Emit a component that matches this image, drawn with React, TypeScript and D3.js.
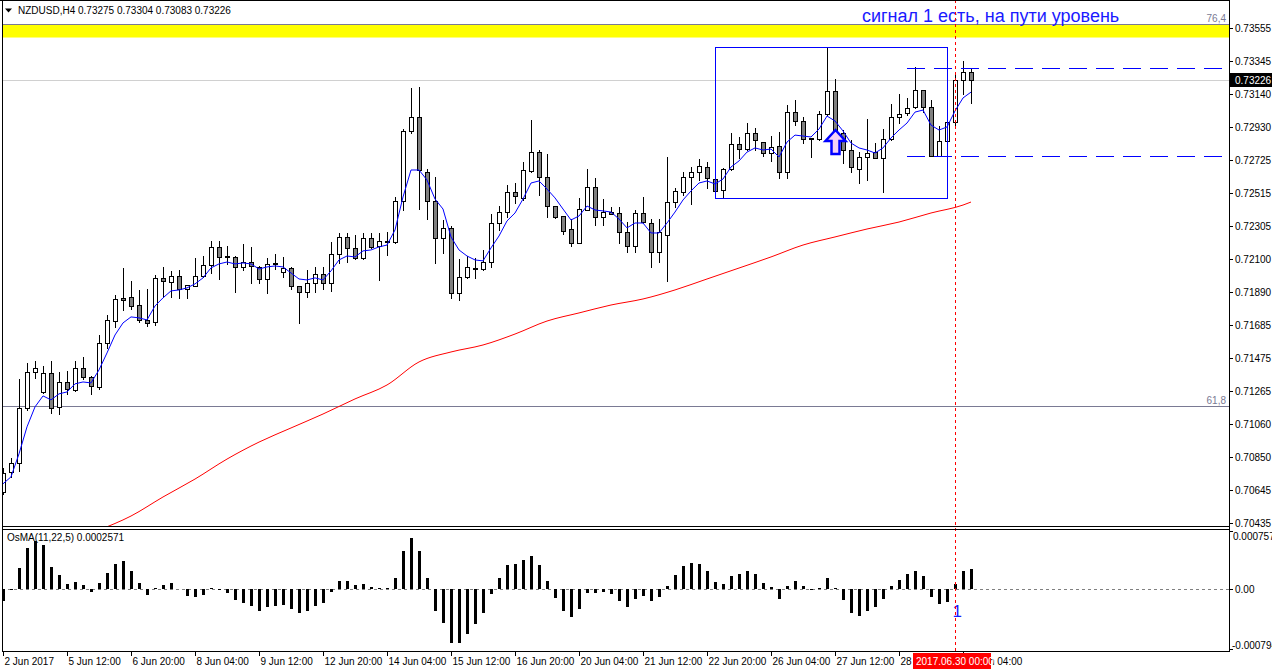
import * as d3 from 'd3';

// NZDUSD H4, 2 Jun 04:00 .. 30 Jun 08:00 2017
const symbolTitle = 'NZDUSD,H4  0.73275 0.73304 0.73083 0.73226';
const oscTitle = 'OsMA(11,22,5) 0.0002571';
const note = 'сигнал 1 есть, на пути уровень';
const signalMark = '1';

const priceTicks = [0.73555, 0.73345, 0.7314, 0.7293, 0.72725, 0.72515, 0.72305, 0.721, 0.7189, 0.71685,
  0.71475, 0.71265, 0.7106, 0.7085, 0.70645, 0.70435];
const dateLabels = ['2 Jun 2017', '5 Jun 12:00', '6 Jun 20:00', '8 Jun 04:00', '9 Jun 12:00', '12 Jun 20:00',
  '14 Jun 04:00', '15 Jun 12:00', '16 Jun 20:00', '20 Jun 04:00', '21 Jun 12:00', '22 Jun 20:00',
  '26 Jun 04:00', '27 Jun 12:00', '28 Jun 20:00', '30 Jun 04:00'];
const barsPerLabel = 8;
const cursorBar = 119;
const cursorLabel = '2017.06.30 00:00';
const lastPrice = 0.73226;

// open, high, low, close
const candles: number[][] = [
  [0.70631, 0.70783, 0.70619, 0.70751], [0.70757, 0.70846, 0.70726, 0.70814], [0.70814, 0.71343, 0.70764, 0.71161],
  [0.71161, 0.71444, 0.71148, 0.71387], [0.71387, 0.71457, 0.7135, 0.71413], [0.71261, 0.71425, 0.71255, 0.71381],
  [0.71381, 0.71457, 0.71129, 0.71161], [0.71167, 0.71387, 0.71123, 0.71324], [0.71324, 0.71394, 0.71249, 0.7128],
  [0.71274, 0.71457, 0.71268, 0.71413], [0.71413, 0.71482, 0.71343, 0.71356], [0.71356, 0.71362, 0.71249, 0.71299],
  [0.71293, 0.7162, 0.7128, 0.7157], [0.7157, 0.71746, 0.71539, 0.71715], [0.71709, 0.71872, 0.71671, 0.71847],
  [0.71854, 0.72043, 0.71778, 0.71841], [0.7186, 0.71961, 0.71784, 0.71803], [0.71809, 0.71904, 0.71702, 0.71715],
  [0.71715, 0.7191, 0.71677, 0.71696], [0.71702, 0.71998, 0.71683, 0.7198], [0.7198, 0.72049, 0.7186, 0.71961],
  [0.71954, 0.72024, 0.7186, 0.71992], [0.71992, 0.7203, 0.71854, 0.7191], [0.7191, 0.71935, 0.71854, 0.71935],
  [0.71929, 0.72106, 0.71929, 0.71992], [0.71992, 0.72118, 0.71986, 0.72061], [0.72061, 0.72213, 0.72011, 0.72175],
  [0.72175, 0.72213, 0.71973, 0.72112], [0.72118, 0.72181, 0.72068, 0.72112], [0.72112, 0.72118, 0.71891, 0.72049],
  [0.72049, 0.72194, 0.7203, 0.7208], [0.7208, 0.72175, 0.71948, 0.72055], [0.72049, 0.72055, 0.71948, 0.71973],
  [0.71973, 0.72106, 0.71885, 0.72068], [0.72074, 0.72131, 0.72036, 0.72068], [0.72017, 0.72112, 0.71986, 0.72043],
  [0.72043, 0.72049, 0.7191, 0.71929], [0.71929, 0.71929, 0.71696, 0.71891], [0.71891, 0.7203, 0.7186, 0.71948],
  [0.71948, 0.72049, 0.71891, 0.72005], [0.72005, 0.72049, 0.7191, 0.71948], [0.71948, 0.72206, 0.71898, 0.72131],
  [0.72131, 0.72263, 0.72074, 0.72238], [0.72238, 0.72263, 0.7208, 0.72169], [0.72169, 0.7225, 0.72099, 0.72106],
  [0.72106, 0.72263, 0.72099, 0.72232], [0.72232, 0.72263, 0.72169, 0.72175], [0.72181, 0.72263, 0.71967, 0.72213],
  [0.72213, 0.72269, 0.72124, 0.72206], [0.72206, 0.7249, 0.722, 0.72465], [0.72465, 0.72918, 0.72408, 0.72906],
  [0.72906, 0.73177, 0.72893, 0.72994], [0.72994, 0.73183, 0.72414, 0.7266], [0.72647, 0.72666, 0.72351, 0.72465],
  [0.72465, 0.72616, 0.72074, 0.72232], [0.72232, 0.72345, 0.72137, 0.72295], [0.72295, 0.72307, 0.71854, 0.71885],
  [0.71885, 0.72099, 0.71841, 0.71986], [0.71986, 0.72118, 0.7198, 0.72049], [0.72043, 0.72106, 0.7198, 0.72036],
  [0.72036, 0.72156, 0.7203, 0.7208], [0.7208, 0.72383, 0.72049, 0.72326], [0.72326, 0.72433, 0.72282, 0.72395],
  [0.72395, 0.72565, 0.72364, 0.72521], [0.72521, 0.72578, 0.72452, 0.72496], [0.72484, 0.7271, 0.72471, 0.7266],
  [0.72654, 0.72975, 0.72647, 0.72773], [0.72773, 0.72786, 0.72502, 0.72616], [0.72616, 0.72761, 0.72364, 0.72433],
  [0.72433, 0.72433, 0.72358, 0.72364], [0.7237, 0.7237, 0.72257, 0.72276], [0.72288, 0.72351, 0.72181, 0.722],
  [0.722, 0.72484, 0.722, 0.72414], [0.72408, 0.72666, 0.72408, 0.72553], [0.72553, 0.7261, 0.72313, 0.72364],
  [0.72364, 0.72477, 0.72313, 0.72395], [0.72395, 0.72427, 0.72383, 0.72383], [0.72389, 0.72427, 0.722, 0.72269],
  [0.72269, 0.72332, 0.72143, 0.72181], [0.72181, 0.72408, 0.72143, 0.72389], [0.72389, 0.7249, 0.72326, 0.72332],
  [0.72326, 0.72351, 0.72049, 0.72143], [0.72143, 0.72351, 0.7208, 0.72269], [0.7225, 0.72742, 0.71961, 0.72458],
  [0.72458, 0.72547, 0.72427, 0.72528], [0.72521, 0.72647, 0.72502, 0.72616], [0.72616, 0.72679, 0.72446, 0.72647],
  [0.72647, 0.72729, 0.72597, 0.72685], [0.72679, 0.7271, 0.72547, 0.7261], [0.72603, 0.72603, 0.72528, 0.72528],
  [0.72534, 0.72673, 0.72484, 0.72666], [0.72666, 0.72893, 0.7266, 0.72824], [0.72824, 0.72868, 0.72736, 0.72792],
  [0.72792, 0.72956, 0.72786, 0.72893], [0.72893, 0.72925, 0.72786, 0.72849], [0.72836, 0.72836, 0.72748, 0.72767],
  [0.72767, 0.72874, 0.72717, 0.72805], [0.72811, 0.72899, 0.7261, 0.72647], [0.72647, 0.73069, 0.7261, 0.73025],
  [0.73025, 0.73101, 0.72943, 0.72969], [0.72969, 0.72994, 0.7283, 0.72855], [0.72862, 0.72862, 0.72742, 0.72855],
  [0.72855, 0.73032, 0.72849, 0.73013], [0.73013, 0.73435, 0.73006, 0.73158], [0.73158, 0.73233, 0.72786, 0.72899],
  [0.72893, 0.72912, 0.72704, 0.72786], [0.72786, 0.72849, 0.72647, 0.72679], [0.72666, 0.72773, 0.72578, 0.72742],
  [0.72742, 0.72981, 0.72597, 0.72767], [0.72773, 0.7283, 0.72736, 0.72736], [0.72736, 0.72918, 0.72521, 0.72855],
  [0.72855, 0.73076, 0.72849, 0.72994], [0.72994, 0.73139, 0.72956, 0.73013], [0.73019, 0.73114, 0.73006, 0.73051],
  [0.73057, 0.73309, 0.73051, 0.73164], [0.73164, 0.73164, 0.73025, 0.73057], [0.73057, 0.73101, 0.72748, 0.72748],
  [0.72748, 0.72937, 0.72748, 0.72843], [0.72843, 0.72962, 0.72836, 0.72962], [0.72962, 0.73271, 0.72925, 0.73227],
  [0.73227, 0.73347, 0.73139, 0.73275], [0.73275, 0.73304, 0.73083, 0.73226],
];

// fast moving average (blue), one value per bar
const fastMa = [
  0.70682, 0.70726, 0.70871, 0.71041, 0.71167, 0.71236, 0.71211, 0.71249, 0.71261, 0.71312,
  0.71324, 0.71318, 0.714, 0.71507, 0.7162, 0.71696, 0.71734, 0.71728, 0.71715, 0.71803,
  0.71854, 0.71898, 0.71904, 0.71917, 0.71942, 0.7198, 0.72043, 0.72068, 0.7208, 0.72068,
  0.72074, 0.72068, 0.72036, 0.72049, 0.72055, 0.72049, 0.72011, 0.71973, 0.71967, 0.7198,
  0.71967, 0.72024, 0.72093, 0.72118, 0.72112, 0.7215, 0.72156, 0.72175, 0.72187, 0.72282,
  0.7249, 0.7266, 0.7266, 0.72597, 0.72477, 0.72414, 0.72238, 0.72156, 0.72118, 0.72093,
  0.72087, 0.72169, 0.72244, 0.72339, 0.72389, 0.72477, 0.72578, 0.72591, 0.7254, 0.72484,
  0.72414, 0.72345, 0.7237, 0.72433, 0.72408, 0.72402, 0.72395, 0.72351, 0.72295, 0.72326,
  0.72326, 0.72263, 0.72263, 0.72326, 0.72395, 0.72471, 0.72528, 0.72578, 0.72591, 0.72572,
  0.72603, 0.72679, 0.72717, 0.72773, 0.72799, 0.72786, 0.72792, 0.72742, 0.72836, 0.7288,
  0.72874, 0.72868, 0.72918, 0.73, 0.72969, 0.72906, 0.7283, 0.72799, 0.72786, 0.72767,
  0.72799, 0.72862, 0.72912, 0.72956, 0.73025, 0.73038, 0.72943, 0.72912, 0.72931, 0.73032,
  0.73114, 0.73151,
];

// slow moving average (red): [bar, value]
const slowMa: [number, number][] = [
  [12, 0.70391], [16, 0.70479], [20, 0.70599], [24, 0.70712], [28, 0.70838], [32, 0.70945], [36, 0.71034],
  [40, 0.71122], [44, 0.71217], [48, 0.71305], [52, 0.7145], [56, 0.71513], [60, 0.71557], [64, 0.71626],
  [68, 0.71708], [72, 0.71759], [76, 0.71809], [80, 0.71847], [84, 0.71904], [88, 0.71973], [92, 0.72042],
  [96, 0.72112], [100, 0.72187], [104, 0.72238], [108, 0.72288], [112, 0.72332], [116, 0.72389], [120, 0.72439],
  [121, 0.72458],
];

const osma = [
  -0.000153, -0.00001, 0.00028, 0.00054, 0.00063, 0.00058, 0.00029, 0.00018, 0.000066, 0.00009,
  0.000054, -0.00004, 0.00008, 0.00021, 0.00033, 0.00036, 0.00024, 0.00008, -0.00008, 0.00002,
  0.00005, 0.00008, 0, -0.00009, -0.0001, -0.00008, 0.00001, -0.00001, -0.00005, -0.00014,
  -0.00018, -0.00022, -0.00028, -0.00024, -0.00022, -0.00021, -0.00026, -0.00031, -0.00029, -0.00022,
  -0.00018, -0.00004, 0.0001, 0.0001, 0.00005, 0.00007, 0.00003, 0.00002, 0.00001, 0.00014,
  0.00049, 0.00067, 0.00049, 0.00014, -0.00028, -0.00044, -0.0007, -0.0007, -0.00059, -0.00046,
  -0.00031, -0.00006, 0.00014, 0.00031, 0.00033, 0.00038, 0.00043, 0.00032, 0.0001, -0.00012,
  -0.00028, -0.00037, -0.00026, -0.00005, -0.00005, -0.00004, -0.00007, -0.00015, -0.00024, -0.00013,
  -0.00009, -0.00015, -0.0001, 0.00004, 0.00018, 0.0003, 0.00034, 0.00033, 0.00023, 0.00009,
  0.00007, 0.00017, 0.00019, 0.00024, 0.00019, 0.00008, 0.00003, -0.00013, 0.00004, 0.0001,
  0.00004, -0.00001, 0.00001, 0.00014, 0.00002, -0.00014, -0.00031, -0.00035, -0.00029, -0.00024,
  -0.00013, 0.00004, 0.00012, 0.00019, 0.00024, 0.00017, -0.0001, -0.0002, -0.00017, 0.00007,
  0.00024, 0.000257,
];
const osmaMax = 0.0007571;
const osmaMin = -0.0007944;
const osmaLabels = ['0.0007571', '0.00', '-0.0007944'];

// fibo levels and drawn objects
const fibLevels = [{ value: 0.7358, label: '76,4' }, { value: 0.71172, label: '61,8' }];
const yellowZone = [0.73495, 0.7358];
const signalBox = { from: 89, to: 118, top: 0.73435, bottom: 0.72484 };
const hLevels = { from: 113, prices: [0.73305, 0.72748] };
const arrowMark = { bar: 104, price: 0.72912 };

const font = "'Liberation Sans', Arial, sans-serif";

export default function App() {
  const W = 1272, H = 672;
  const left = 2, right = 1229, mainBottom = 526, oscTop = 529, oscBottom = 651;
  const n = candles.length;

  const x = d3.scaleLinear().domain([0, n - 1]).range([3, 3 + 8 * (n - 1)]);
  const y = d3.scaleLinear().domain([0.70435, 0.73555]).range([523, 28]);
  const yo = d3.scaleLinear().domain([osmaMin, osmaMax]).range([650, 531]);
  const r = (v: number) => Math.round(v);

  const fastPath = d3.line<number>().x((_, i) => x(i)).y(d => y(d))(fastMa) || '';
  const slowPath = d3.line<[number, number]>().x(d => x(d[0])).y(d => y(d[1]))
    .curve(d3.curveMonotoneX)(slowMa) || '';

  const cx = r(x(cursorBar)) + 0.5;
  const ax = r(x(arrowMark.bar)) + 0.5;
  const ay = r(y(arrowMark.price));
  const arrowD = `M${ax},${ay} L${ax + 10},${ay + 11} L${ax + 4},${ay + 11} L${ax + 4},${ay + 24} L${ax - 4},${ay + 24} L${ax - 4},${ay + 11} L${ax - 10},${ay + 11} Z`;
  const zeroY = r(yo(0)) + 0.5;

  return (
    <svg width={W} height={H} style={{ position: 'absolute', left: 0, top: 0, background: '#fff' }}
      fontFamily={font}>
      <defs>
        <clipPath id="mainClip"><rect x={left + 1} y={1} width={right - left - 1} height={mainBottom - 1} /></clipPath>
        <clipPath id="oscClip"><rect x={left + 1} y={oscTop + 1} width={right - left - 1} height={oscBottom - oscTop - 1} /></clipPath>
      </defs>
      <rect x={0} y={0} width={W} height={H} fill="#fff" />

      <g clipPath="url(#mainClip)">
        {/* yellow zone + fibo lines */}
        <rect x={left} width={right - left} y={y(yellowZone[1])} height={y(yellowZone[0]) - y(yellowZone[1])} fill="#ffff00" />
        {fibLevels.map(f => (
          <g key={f.label}>
            <line x1={left} x2={right} y1={r(y(f.value)) + 0.5} y2={r(y(f.value)) + 0.5} stroke="#7a7a94" />
            <text x={right - 3} y={r(y(f.value)) - 2} textAnchor="end" fontSize={10} fill="#7a7a94">{f.label}</text>
          </g>
        ))}
        {/* bid line */}
        <line x1={left} x2={right} y1={r(y(lastPrice)) + 0.5} y2={r(y(lastPrice)) + 0.5} stroke="#d0d0d0" />

        <path d={slowPath} fill="none" stroke="#ff0000" strokeWidth={1} />

        {candles.map((c, i) => {
          const [o, h, l, cl] = c;
          const px = r(x(i));
          const top = r(y(Math.max(o, cl)));
          const bot = r(y(Math.min(o, cl)));
          const bull = cl >= o;
          return (
            <g key={i}>
              <line x1={px + 0.5} x2={px + 0.5} y1={r(y(h))} y2={r(y(l)) + 1} stroke="#000" />
              <rect x={px - 1.5} y={top + 0.5} width={4} height={Math.max(bot - top, 0)}
                fill={bull ? '#fff' : '#808080'} stroke="#000" />
            </g>
          );
        })}

        <path d={fastPath} fill="none" stroke="#0000ff" strokeWidth={1} />

        {/* signal box, levels, arrow */}
        <rect x={r(x(signalBox.from)) + 0.5} y={r(y(signalBox.top)) + 0.5}
          width={r(x(signalBox.to)) - r(x(signalBox.from))} height={r(y(signalBox.bottom)) - r(y(signalBox.top))}
          fill="none" stroke="#0000ff" />
        {hLevels.prices.map(p => (
          <line key={p} x1={r(x(hLevels.from))} x2={right} y1={r(y(p)) + 0.5} y2={r(y(p)) + 0.5}
            stroke="#0000ff" strokeDasharray="18,9" />
        ))}
        <path d={arrowD} fill="#f6d2f6" stroke="#0000ff" strokeWidth={2.5} strokeLinejoin="miter" />

        <text x={862} y={22} fontSize={18} fill="#1a1aff">{note}</text>
      </g>

      {/* oscillator */}
      <g clipPath="url(#oscClip)">
        <line x1={left} x2={right} y1={zeroY} y2={zeroY} stroke="#808080" strokeDasharray="3,3" />
        {osma.map((v, i) => {
          const px = r(x(i));
          const y0 = r(yo(0));
          const yv = r(yo(v));
          return <rect key={i} x={px - 1} width={3} y={Math.min(y0, yv)} height={Math.abs(yv - y0)} fill="#000" />;
        })}
        <text x={7} y={541} fontSize={10} fill="#000">{oscTitle}</text>
        <text x={cx - 3} y={617} fontSize={17} fill="#1a1aff">{signalMark}</text>
      </g>

      {/* cursor line */}
      <line x1={cx} x2={cx} y1={0} y2={oscBottom} stroke="#ff0000" strokeDasharray="3,3" />

      {/* frames */}
      <line x1={0} x2={right} y1={0.5} y2={0.5} stroke="#000" />
      <line x1={left + 0.5} x2={left + 0.5} y1={0} y2={oscBottom + 1} stroke="#000" />
      <line x1={left} x2={right} y1={mainBottom + 0.5} y2={mainBottom + 0.5} stroke="#000" />
      <line x1={left} x2={right} y1={oscTop + 0.5} y2={oscTop + 0.5} stroke="#000" />
      <line x1={left} x2={right + 1} y1={oscBottom + 0.5} y2={oscBottom + 0.5} stroke="#000" />
      <line x1={right + 0.5} x2={right + 0.5} y1={0} y2={oscBottom + 1} stroke="#000" />

      {/* title */}
      <path d="M5,8.5 h7 l-3.5,4 z" fill="#000" />
      <text x={18} y={14} fontSize={10} fill="#000">{symbolTitle}</text>

      {/* price axis */}
      {priceTicks.map(p => {
        const ty = r(y(p)) + 0.5;
        return (
          <g key={p}>
            <line x1={right} x2={right + 4} y1={ty} y2={ty} stroke="#000" />
            <text x={right + 6} y={ty + 3.5} fontSize={10} fill="#000">{p.toFixed(5)}</text>
          </g>
        );
      })}
      <rect x={right + 1} y={r(y(lastPrice)) - 7} width={W - right} height={14} fill="#000" />
      <text x={right + 6} y={r(y(lastPrice)) + 4} fontSize={10} fill="#fff">{lastPrice.toFixed(5)}</text>

      {/* oscillator axis */}
      <line x1={right} x2={right + 4} y1={oscTop + 2.5} y2={oscTop + 2.5} stroke="#000" />
      <text x={right + 4} y={oscTop + 11} fontSize={10} fill="#000">{osmaLabels[0]}</text>
      <line x1={right} x2={right + 4} y1={zeroY} y2={zeroY} stroke="#000" />
      <text x={right + 6} y={zeroY + 3.5} fontSize={10} fill="#000">{osmaLabels[1]}</text>
      <line x1={right} x2={right + 4} y1={oscBottom - 1.5} y2={oscBottom - 1.5} stroke="#000" />
      <text x={right + 3} y={oscBottom - 2} fontSize={10} fill="#000">{osmaLabels[2]}</text>

      {/* time axis */}
      {dateLabels.map((t, k) => {
        const tx = r(x(k * barsPerLabel)) + 0.5;
        return (
          <g key={t}>
            <line x1={tx} x2={tx} y1={oscBottom} y2={oscBottom + 5} stroke="#000" />
            <text x={tx + 1} y={665} fontSize={10} fill="#000">{t}</text>
          </g>
        );
      })}
      <rect x={cx - 42.5} y={653} width={78} height={16} fill="#ff0000" />
      <text x={cx - 39.5} y={665} fontSize={10} fill="#fff">{cursorLabel}</text>
    </svg>
  );
}
